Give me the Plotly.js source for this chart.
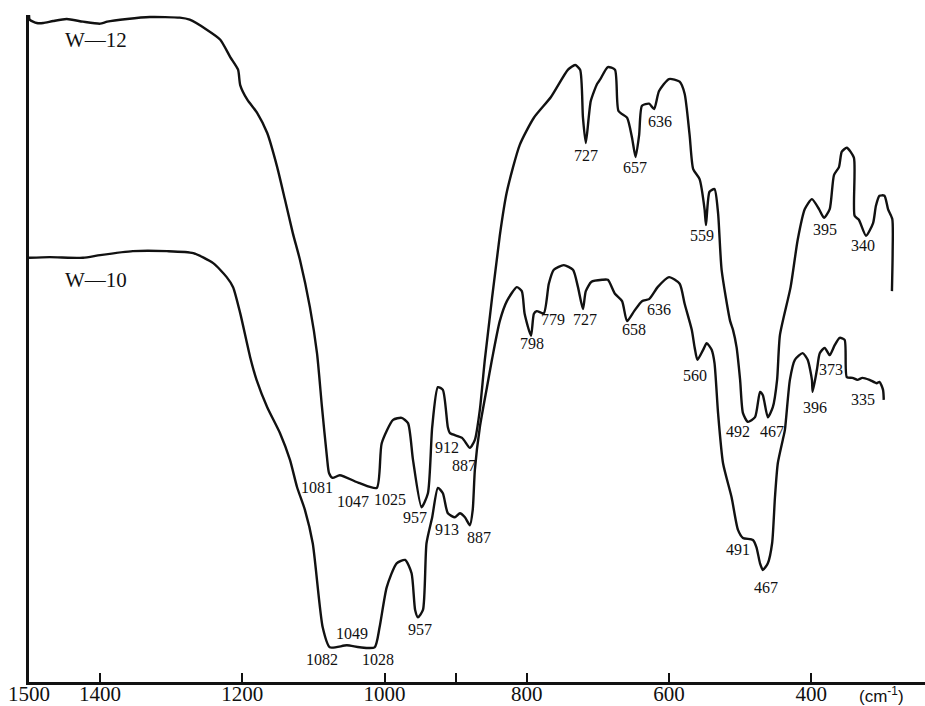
<!DOCTYPE html>
<html>
<head>
<meta charset="utf-8">
<script src="https://cdn.plot.ly/plotly-3.0.1.min.js"></script>
<style>html,body{margin:0;padding:0;background:#fff;}#chart{width:925px;height:706px;}</style>
</head>
<body>
<div id="chart"></div>
<script>
// ---- Data (wavenumber cm-1, relative transmittance %) ----
const w12Wavenumber = [1500,1499,1489,1480,1466,1447,1424,1400,1390,1362,1330,1288,1274,1250,1231,1217,1206,1203,1193,1179,1165,1151,1140,1129,1119,1105,1095,1088,1081,1078,1073,1063,1035,1011,1004,988,976,967,960,948,939,933,925,918,911,908,891,880,873,866,859,838,828,810,790,766,742,732,725,721,717,710,701,697,686,676,671,659,652,647,642,638,628,621,614,600,585,578,571,566,557,550,548,543,536,531,526,514,510,505,500,496,489,479,472,468,461,454,448,444,429,419,409,399,389,382,374,368,361,357,350,340,339,333,323,313,309,304,297,292,286,285.5,286.5];
const w12Transmit  = [100,99.3,98.8,98.8,99.1,99.4,99.0,98.7,99.0,99.4,99.7,99.6,99.3,97.8,96.3,93.7,91.8,89.5,87.3,85.3,82.3,77.2,72.3,67.3,63.3,56.2,49.3,41.2,33.7,31.3,30.6,31.0,29.8,29.1,35.8,39.3,39.6,38.8,33.3,26.2,28.3,38.2,44.2,43.8,38.2,37.3,36.6,35.1,36.3,40.8,48.3,66.9,73.5,80.5,84.6,87.7,91.8,92.5,91.8,84.6,80.8,87.1,89.7,90.3,92.2,91.8,85.6,84.6,81.6,78.7,82.0,86.4,86.7,85.9,88.6,90.4,90.0,88.2,82.0,76.9,75.4,70.9,68.5,73.5,73.9,70.3,61.8,54.1,52.8,50.2,45.3,40.3,39.0,39.7,43.5,43.0,39.7,41.2,45.3,52.0,59.2,66.3,70.9,72.4,70.9,69.6,70.9,76.0,77.2,79.5,80.1,78.6,69.9,69.3,66.9,68.8,71.4,72.9,72.9,70.9,69.4,64.3,58.6];

const w10Wavenumber = [1500,1471,1424,1400,1354,1306,1269,1241,1222,1213,1203,1189,1180,1165,1147,1133,1123,1112,1101,1087,1077,1053,1035,1014,1007,997,983,971,962,957,953,946,941,933,925,918,911,901,894,887,880,876,873,866,856,849,838,828,814,807,803,794,790,786,776,769,762,748,735,728,721,717,709,694,686,676,666,659,649,638,628,616,600,585,578,568,564,560,552,547,540,536,531,524,512,503,496,482,477,472,468,461,455,451,447,440,437,430,423,412,405,399,398,392,388,381,374,367,360,353,350,342,335,328,318,308,304,299,298];
const w10Transmit  = [63.6,63.7,63.6,64.0,64.6,64.6,64.3,62.8,60.7,59.2,55.3,48.7,45.3,41.2,37.3,33.3,29.2,25.8,20.8,8.2,5.2,5.5,5.2,5.2,8.2,14.2,17.8,18.3,16.3,10.8,9.7,10.8,20.8,24.7,29.1,28.3,25.3,24.7,25.3,24.7,23.5,25.8,31.8,38.2,44.2,48.3,54.1,57.1,59.2,58.6,55.2,51.9,55.2,55.6,55.3,59.7,61.8,62.5,61.8,59.2,55.9,58.6,60.0,60.3,60.3,58.2,57.1,54.1,55.6,57.1,57.4,59.2,60.7,59.7,56.7,52.8,50.2,48.3,49.8,50.8,49.8,47.8,40.3,32.8,27.7,22.8,21.6,21.3,20.2,17.8,16.8,17.8,20.8,27.7,32.8,36.3,37.8,45.3,48.3,49.3,48.3,45.3,43.5,46.8,49.3,50.1,49.0,50.5,51.6,51.3,45.7,45.6,45.3,45.6,45.3,44.8,45.0,43.8,42.3];

// peak labels (text) and where they are printed
const w12PeakLabels = ["1081","1047","1025","957","912","887","727","657","636","559","492","467","395","340"];
const w12LabelAt = [[1095,29.1],[1044.5,27.0],[992.5,27.3],[957,24.6],[912,35.2],[888,32.4],[717,79.0],[648,77.1],[613,84.1],[554,67.0],[503,37.5],[455,37.6],[381,67.8],[327.5,65.4]];
const w10PeakLabels = ["1082","1049","1028","957","913","887","798","779","727","658","636","560","491","467","396","373","335"];
const w10LabelAt = [[1088,3.4],[1046,7.2],[1009,3.4],[950,7.9],[912,22.8],[867,21.7],[793,50.7],[763,54.3],[718,54.3],[649,52.8],[614,55.9],[564,46.0],[503,19.8],[464,14.2],[395,41.2],[372.5,46.8],[327.5,42.3]];
const sampleNames = ["W\u201412","W\u201410"];
const sampleNameAt = [[1406,96.3],[1406,60.3]];

const tickVals = [1500,1400,1200,1000,800,600,400];
const tickText = ["1500","1400","1200","1000","800","600","400"];
const minorTickVals = [900];

const serif = "Liberation Serif, Times New Roman, serif";
const traces = [
  {x: w12Wavenumber, y: w12Transmit, mode: "lines", line: {color: "#111", width: 2.4, shape: "spline", smoothing: 0.6}, hoverinfo: "skip"},
  {x: w10Wavenumber, y: w10Transmit, mode: "lines", line: {color: "#111", width: 2.4, shape: "spline", smoothing: 0.6}, hoverinfo: "skip"}
];

const annotations = [];
function addLabels(texts, at, size) {
  texts.forEach((t, i) => annotations.push({
    x: at[i][0], y: at[i][1], xref: "x", yref: "y", text: t, showarrow: false,
    xanchor: "center", yanchor: "middle", font: {family: serif, size: size, color: "#111"}
  }));
}
addLabels(w12PeakLabels, w12LabelAt, 16);
addLabels(w10PeakLabels, w10LabelAt, 16);
addLabels(sampleNames, sampleNameAt, 21);
annotations.push({
  x: 0.952, y: -0.02, xref: "paper", yref: "paper", text: "(cm<sup>-1</sup>)", showarrow: false,
  xanchor: "center", yanchor: "middle", font: {family: "Liberation Sans, Arial, sans-serif", size: 17, color: "#111"}
});

const layout = {
  width: 925, height: 706,
  margin: {l: 29, r: 0, t: 15, b: 24},
  paper_bgcolor: "#fff", plot_bgcolor: "#fff",
  showlegend: false,
  xaxis: {
    range: [1500, 240], autorange: false,
    showgrid: false, zeroline: false,
    showline: true, linecolor: "#111", linewidth: 3,
    ticks: "inside", ticklen: 9, tickwidth: 2, tickcolor: "#111",
    tickmode: "array", tickvals: tickVals, ticktext: tickText,
    ticklabelstandoff: -9,
    tickfont: {family: serif, size: 21, color: "#111"},
    minor: {tickmode: "array", tickvals: minorTickVals, ticks: "inside", ticklen: 9, tickwidth: 2, tickcolor: "#111", showgrid: false}
  },
  yaxis: {
    range: [0, 100], autorange: false,
    showgrid: false, zeroline: false,
    showline: true, linecolor: "#111", linewidth: 3,
    ticks: "", showticklabels: false
  },
  annotations: annotations
};

Plotly.newPlot("chart", traces, layout, {staticPlot: true, displayModeBar: false});
</script>
</body>
</html>
